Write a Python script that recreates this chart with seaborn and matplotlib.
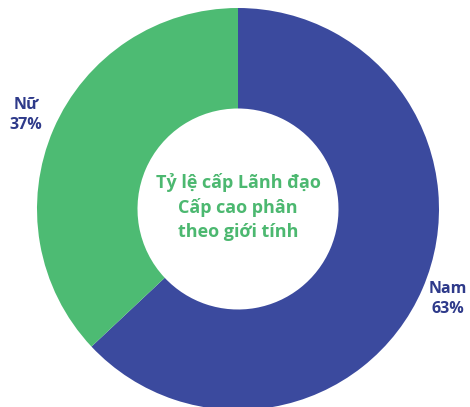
import matplotlib
matplotlib.use("Agg")
import matplotlib.pyplot as plt
import seaborn as sns

categories = ["Nam", "Nữ"]
values = [63, 37]
colors = ["#3b4a9e", "#4dbb73"]
title_lines = ["Tỷ lệ cấp Lãnh đạo", "Cấp cao phân", "theo giới tính"]

sns.set_theme(style="white")
plt.rcParams['font.family'] = ['Open Sans', 'DejaVu Sans']

fig = plt.figure(figsize=(4.70, 4.07), dpi=100)
ax = fig.add_axes([(238 - 201) / 470, (407 - 209 - 201) / 407, 402 / 470, 402 / 407])
palette = sns.color_palette(colors)
ax.pie(values, colors=palette, startangle=90, counterclock=False,
       wedgeprops=dict(width=0.5, edgecolor="none"), radius=1.0)
ax.set_xlim(-1, 1)
ax.set_ylim(-1, 1)
ax.set_aspect("equal")
ax.axis("off")

fig.text(238 / 470, 1 - 207 / 407, "\n".join(title_lines), ha="center", va="center",
         fontsize=13, fontweight="bold", color="#4cb870", linespacing=1.38)

lbl_color = "#2e3a8a"
fig.text(26 / 470, 1 - 115 / 407, f"{categories[1]}\n{values[1]}%", ha="center", va="center",
         fontsize=11.5, fontweight="bold", color=lbl_color, linespacing=1.4)
fig.text(448 / 470, 1 - 299 / 407, f"{categories[0]}\n{values[0]}%", ha="center", va="center",
         fontsize=11.5, fontweight="bold", color=lbl_color, linespacing=1.4)

fig.savefig("out.png", dpi=100, facecolor="white")
